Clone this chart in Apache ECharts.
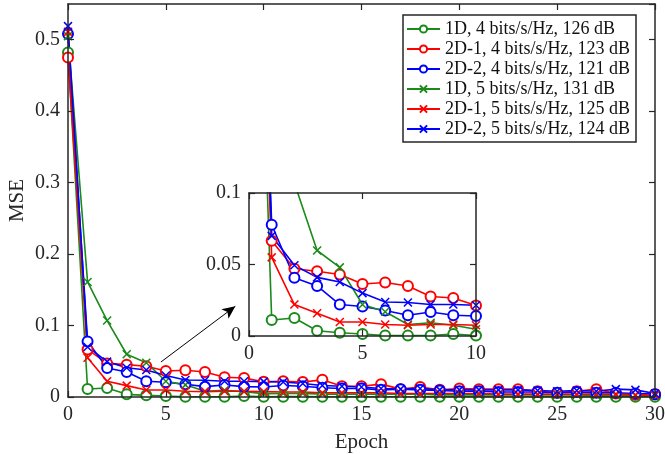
<!DOCTYPE html>
<html>
<head>
<meta charset="utf-8">
<script src="https://cdn.jsdelivr.net/npm/echarts@6/dist/echarts.min.js"></script>
<style>
  html, body { margin: 0; padding: 0; background: #fff; }
  #container { width: 665px; height: 454px; }
</style>
</head>
<body>
<div id="container"></div>
<script>
var epochs = [0, 1, 2, 3, 4, 5, 6, 7, 8, 9, 10, 11, 12, 13, 14, 15, 16, 17, 18, 19, 20, 21, 22, 23, 24, 25, 26, 27, 28, 29, 30];

var names = ['1D, 4 bits/s/Hz, 126 dB', '2D-1, 4 bits/s/Hz, 123 dB', '2D-2, 4 bits/s/Hz, 121 dB',
             '1D, 5 bits/s/Hz, 131 dB', '2D-1, 5 bits/s/Hz, 125 dB', '2D-2, 5 bits/s/Hz, 124 dB'];

var mse1D4 = [0.482, 0.0112, 0.0126, 0.0037, 0.0023, 0.0014, 0.0003, 0.0003, 0.0003, 0.0014, 0.0003,
              0.0005, 0.0005, 0.0004, 0.0004, 0.0004, 0.0004, 0.0003, 0.0003, 0.0003, 0.0003,
              0.0003, 0.0003, 0.0003, 0.0003, 0.0003, 0.0003, 0.0003, 0.0003, 0.0003, 0.0003];
var mse2D14 = [0.475, 0.0666, 0.047, 0.0453, 0.043, 0.0364, 0.0374, 0.035, 0.0276, 0.0266, 0.0213,
               0.022, 0.021, 0.024, 0.015, 0.015, 0.018, 0.011, 0.014, 0.010, 0.012,
               0.011, 0.011, 0.011, 0.008, 0.006, 0.008, 0.011, 0.005, 0.003, 0.004];
var mse2D24 = [0.508, 0.0778, 0.0407, 0.035, 0.022, 0.0206, 0.0178, 0.0145, 0.0168, 0.0145, 0.014,
               0.016, 0.015, 0.013, 0.012, 0.012, 0.010, 0.011, 0.010, 0.009, 0.008,
               0.008, 0.007, 0.007, 0.007, 0.006, 0.007, 0.006, 0.006, 0.005, 0.004];
var mse1D5 = [0.505, 0.161, 0.107, 0.0598, 0.048, 0.022, 0.017, 0.008, 0.0093, 0.0075, 0.0047,
              0.005, 0.005, 0.004, 0.004, 0.004, 0.004, 0.004, 0.004, 0.003, 0.003,
              0.003, 0.003, 0.003, 0.003, 0.003, 0.003, 0.002, 0.002, 0.002, 0.002];
var mse2D15 = [0.511, 0.055, 0.022, 0.0159, 0.0098, 0.0098, 0.008, 0.0075, 0.008, 0.008, 0.0075,
               0.007, 0.007, 0.006, 0.006, 0.006, 0.006, 0.005, 0.005, 0.005, 0.005,
               0.005, 0.004, 0.004, 0.004, 0.004, 0.004, 0.004, 0.004, 0.003, 0.003];
var mse2D25 = [0.519, 0.07, 0.0495, 0.041, 0.0378, 0.03, 0.0238, 0.0234, 0.022, 0.022, 0.0215,
               0.021, 0.019, 0.016, 0.015, 0.014, 0.012, 0.011, 0.012, 0.010, 0.010,
               0.010, 0.010, 0.010, 0.009, 0.008, 0.009, 0.008, 0.011, 0.010, 0.005];

var allData = [mse1D4, mse2D14, mse2D24, mse1D5, mse2D15, mse2D25];
var colors = ['#1a8a1a', '#ff0000', '#0000ff', '#1a8a1a', '#ff0000', '#0000ff'];
var cross = 'path://M0,0L10,10M10,0L0,10';
var symbols = ['emptyCircle', 'emptyCircle', 'emptyCircle', cross, cross, cross];

var insetEnd = 10;
var arrowFrom = [4.75, 0.049];
var arrowTo = [8.55, 0.127];

var font = 'Liberation Serif';
var axisCol = '#262626';

function pairs(values, last) {
    let out = [];
    for (let i = 0; i < epochs.length; i++) {
        if (last !== undefined && epochs[i] > last) break;
        out.push([epochs[i], values[i]]);
    }
    return out;
}

function boxAxis(gridIndex, pos, min, max, interval, showLabel, fontSize, z) {
    return {
        type: 'value', gridIndex: gridIndex, position: pos, min: min, max: max, interval: interval, z: z,
        axisLine: { show: true, onZero: false, lineStyle: { color: axisCol, width: 1.5 } },
        axisTick: { show: true, inside: true, length: 6, lineStyle: { color: axisCol, width: 1.2 } },
        axisLabel: { show: showLabel, color: axisCol, fontFamily: font, fontSize: fontSize, margin: 8, showMaxLabel: interval === 0.1 && max !== 0.1 ? false : true },
        splitLine: { show: false }
    };
}

function init() {
    let chart = echarts.init(document.getElementById('container'));
    let series = [];
    for (let i = 0; i < 6; i++) {
        let base = {
            name: names[i],
            type: 'line',
            symbol: symbols[i],
            symbolSize: i < 3 ? 10 : 8,
            color: colors[i],
            lineStyle: { color: colors[i], width: 1.6 },
            itemStyle: { color: colors[i], borderColor: colors[i], borderWidth: 1.5 },
            emphasis: { disabled: true },
            animation: false
        };
        series.push(Object.assign({}, base, {
            xAxisIndex: 0, yAxisIndex: 0, z: 2,
            data: pairs(allData[i])
        }));
        series.push(Object.assign({}, base, {
            xAxisIndex: 2, yAxisIndex: 2, z: 6, clip: true,
            data: pairs(allData[i], insetEnd)
        }));
    }
    // arrow pointing at the zoomed inset
    series[0].markLine = {
        silent: true,
        symbol: ['none', 'arrow'],
        symbolSize: [9, 13],
        label: { show: false },
        lineStyle: { color: '#000', width: 1, type: 'solid' },
        data: [[{ coord: arrowFrom }, { coord: arrowTo }]]
    };

    let option = {
        backgroundColor: '#fff',
        animation: false,
        grid: [
            { left: 68, right: 10, top: 4, bottom: 57, outerBoundsMode: 'none' },
            { left: 249, width: 227, top: 193, height: 143, outerBoundsMode: 'none', show: true, backgroundColor: '#fff', borderWidth: 0, z: 4 }
        ],
        xAxis: [
            Object.assign(boxAxis(0, 'bottom', 0, 30, 5, true, 20, 3), {
                name: 'Epoch', nameLocation: 'middle', nameGap: 35, nameMoveOverlap: false,
                nameTextStyle: { fontFamily: font, fontSize: 21, color: axisCol }
            }),
            boxAxis(0, 'top', 0, 30, 5, false, 20, 3),
            boxAxis(1, 'bottom', 0, 10, 5, true, 20, 7),
            boxAxis(1, 'top', 0, 10, 5, false, 20, 7)
        ],
        yAxis: [
            Object.assign(boxAxis(0, 'left', 0, 0.55, 0.1, true, 20, 3), {
                name: 'MSE', nameLocation: 'middle', nameGap: 40, nameMoveOverlap: false,
                nameTextStyle: { fontFamily: font, fontSize: 21, color: axisCol }
            }),
            boxAxis(0, 'right', 0, 0.55, 0.1, false, 20, 3),
            boxAxis(1, 'left', 0, 0.1, 0.05, true, 20, 7),
            boxAxis(1, 'right', 0, 0.1, 0.05, false, 20, 7)
        ],
        legend: {
            data: names,
            orient: 'vertical',
            left: 403, top: 15,
            padding: [4, 6, 3, 3],
            itemGap: 0,
            itemWidth: 33, itemHeight: 9,
            backgroundColor: '#fff',
            borderColor: axisCol, borderWidth: 1.5,
            textStyle: { fontFamily: font, fontSize: 18, color: '#111', lineHeight: 20 },
            selectedMode: false,
            z: 10
        },
        series: series
    };
    chart.setOption(option);
}

init();
</script>
</body>
</html>
